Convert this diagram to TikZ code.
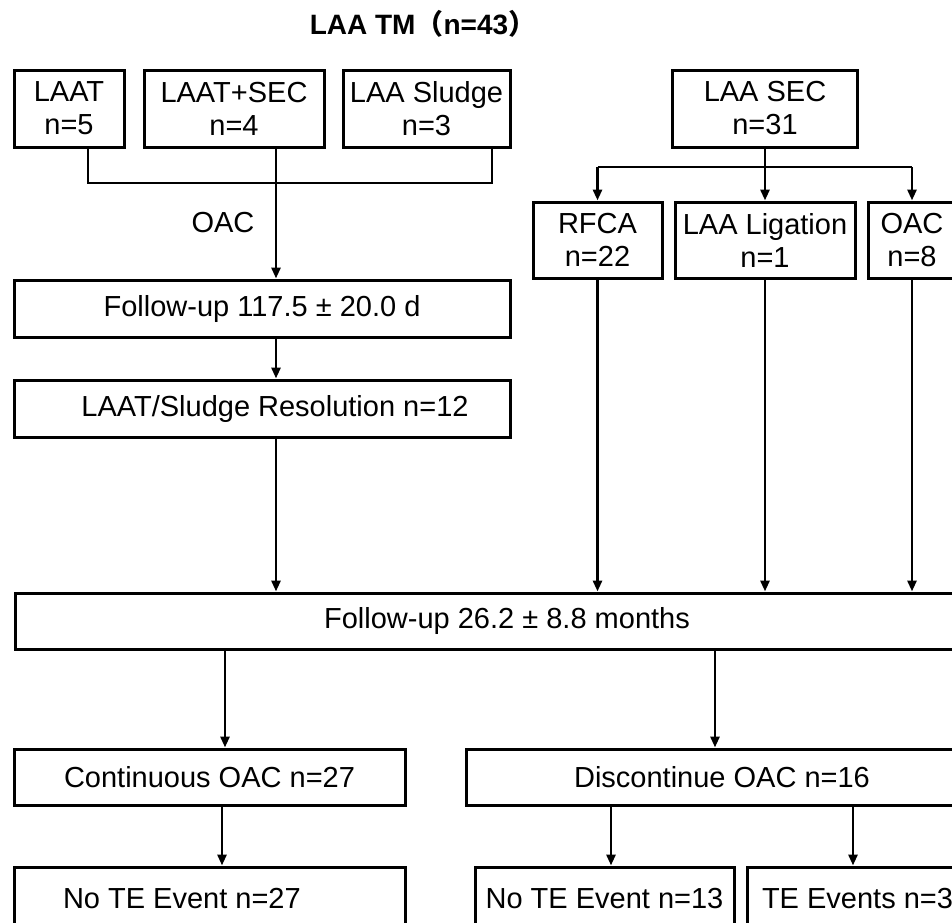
\documentclass[tikz,border=0pt]{standalone}
\usepackage{fontspec}
\setmainfont{Liberation Sans}
\newfontfamily\cjk{Noto Sans CJK SC}
\usetikzlibrary{arrows.meta,calc}
\tikzset{
  box/.style={draw, line width=3pt, inner sep=0pt, align=center,
    font=\fontsize{29}{33}\selectfont},
  ln/.style={line width=2.8pt},
  arr/.style={line width=2.8pt, -{Triangle[length=11pt,width=9pt]}},
  lbl/.style={inner sep=0pt, font=\fontsize{29}{33}\selectfont}
}
\begin{document}
\begin{tikzpicture}[x=1pt,y=-1pt]
\useasboundingbox (0,0) rectangle (952,922);
\clip (0,0) rectangle (952,922);
\fill[white] (0,0) rectangle (952,922);

\node[inner sep=0pt, font=\fontsize{28}{32}\selectfont\bfseries] (title) at (423,24)
  {LAA TM{\cjk\bfseries （}n=43{\cjk\bfseries ）}};

\node[box, minimum width=110, minimum height=77] (laat) at (69,108.5) {LAAT\\n=5};
\node[box, minimum width=180, minimum height=77] (laatsec) at (234,108.5) {LAAT+SEC\\n=4};
\node[box, minimum width=167, minimum height=77] (sludge) at (426.5,108.5) {LAA Sludge\\n=3};
\node[box, minimum width=185, minimum height=77] (laasec) at (765,108.5) {LAA SEC\\n=31};

\node[box, minimum width=129, minimum height=76] (rfca) at (597.5,240) {RFCA\\n=22};
\node[box, minimum width=180, minimum height=76] (lig) at (765,240) {LAA Ligation\\n=1};
\node[box, minimum width=88, minimum height=76] (oac8) at (912,240) {OAC\\n=8};

\node[lbl] (oaclbl) at (223,223) {OAC};

\node[box, minimum width=496, minimum height=57] (fu1) at (262,308.5) {Follow-up 117.5 ± 20.0 d};
\node[box, minimum width=496, minimum height=57] (res) at (262,408.5) {\makebox[496pt][c]{\hspace*{26pt}LAAT/Sludge Resolution n=12}};

\node[box, minimum width=984, minimum height=56] (fu2) at (507,621) {Follow-up 26.2 ± 8.8 months};

\node[box, minimum width=391, minimum height=56] (cont) at (209.5,777) {Continuous OAC n=27};
\node[box, minimum width=512, minimum height=56] (disc) at (722,777) {Discontinue OAC n=16};

\node[box, minimum width=391, minimum height=62] (te27) at (209.5,898) {\makebox[391pt][l]{\hspace*{49pt}No TE Event n=27}};
\node[box, minimum width=259, minimum height=62] (te13) at (604.5,898) {No TE Event n=13};
\node[box, minimum width=218, minimum height=62] (te3) at (856,898) {\makebox[218pt][l]{\hspace*{15pt}TE Events n=3}};

% left bracket
\coordinate (bl) at (88,183);
\coordinate (br) at (492,183);
\coordinate (bm) at (276,183);
\draw[ln] (laat.south -| bl) -- (bl) -- (br) -- (sludge.south -| br);
\draw[arr] (laatsec.south -| bm) -- (fu1.north -| bm);
\draw[arr] (fu1.south -| bm) -- (res.north -| bm);
\draw[arr] (res.south -| bm) -- (fu2.north -| bm);

% right branch
\coordinate (rb) at (0,167);
\draw[ln] (rfca.north |- rb) -- (oac8.north |- rb);
\draw[arr] (rfca.north |- rb) -- (rfca.north);
\draw[arr] (laasec.south) -- (lig.north);
\draw[arr] (oac8.north |- rb) -- (oac8.north);

\draw[arr] (rfca.south) -- (rfca.south |- fu2.north);
\draw[arr] (lig.south) -- (lig.south |- fu2.north);
\draw[arr] (oac8.south) -- (oac8.south |- fu2.north);

% lower part
\coordinate (c1) at (225,0);
\coordinate (c2) at (715,0);
\coordinate (c3) at (222,0);
\coordinate (c4) at (611,0);
\coordinate (c5) at (853,0);
\draw[arr] (fu2.south -| c1) -- (cont.north -| c1);
\draw[arr] (fu2.south -| c2) -- (disc.north -| c2);
\draw[arr] (cont.south -| c3) -- (te27.north -| c3);
\draw[arr] (disc.south -| c4) -- (te13.north -| c4);
\draw[arr] (disc.south -| c5) -- (te3.north -| c5);
\end{tikzpicture}
\end{document}
